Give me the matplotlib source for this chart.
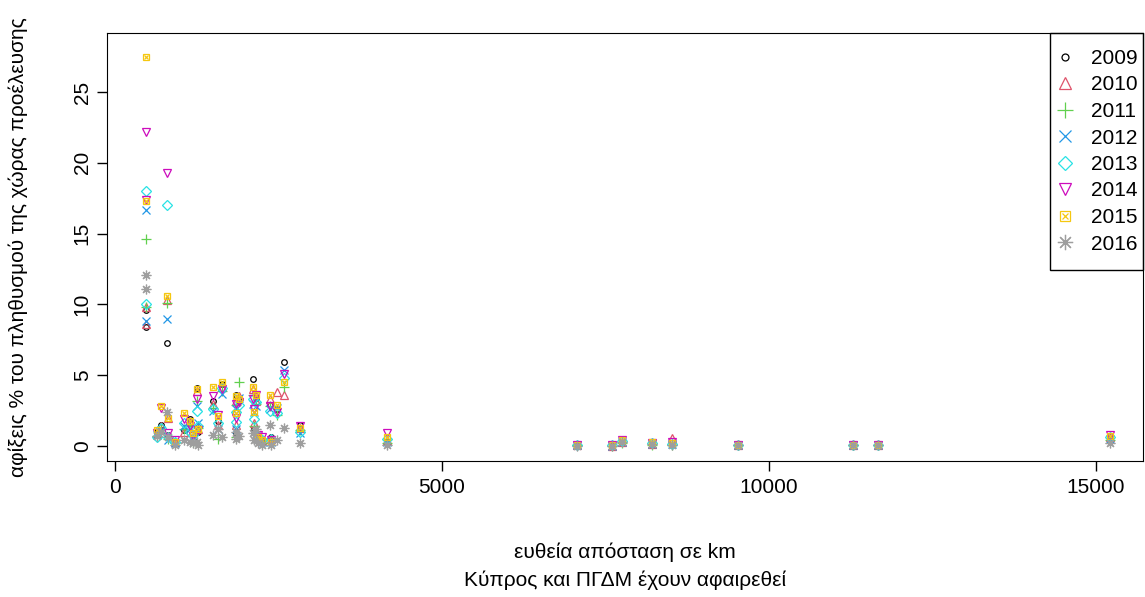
import matplotlib
matplotlib.use("Agg")
import matplotlib.pyplot as plt
from matplotlib.lines import Line2D
from matplotlib.patches import Rectangle
import numpy as np

plt.rcParams['font.family'] = ['Liberation Sans', 'DejaVu Sans']

years = ['2009', '2010', '2011', '2012', '2013', '2014', '2015', '2016']

# straight-line distance (km) per origin country
distance_km = [480, 470, 795, 703, 810, 1055, 1147, 1193, 1254, 1269,
               1498, 1575, 1636, 1850, 1852, 1896, 2110, 2125, 2156, 2187,
               2248, 2370, 2385, 2477, 2584, 2829, 4159, 7064, 7599, 7752,
               8211, 8517, 9526, 11284, 11667, 15214, 917, 642]

# arrivals as % of origin population, one list per year (same country order)
arr_2009 = [9.6, 8.4, 7.3, 1.5, 0.8, 1.1, 1.9, 0.4, 4.1, 1.0,
            3.2, 1.8, 4.4, 3.6, 0.9, 3.2, 4.7, 1.2, 3.4, 0.8,
            0.3, 2.9, 0.6, 2.6, 5.9, 1.5, 0.3, 0.05, 0.02, 0.2,
            0.1, 0.1, 0.05, 0.04, 0.05, 0.5, 0.2, 1.0]
arr_2010 = [9.8, 8.6, 10.3, 1.4, 2.0, 1.0, 1.7, 0.5, 3.9, 1.2,
            3.0, 1.5, 4.2, 3.2, 1.5, 3.5, 4.0, 1.6, 3.2, 0.6,
            0.4, 3.3, 0.5, 3.8, 3.6, 1.3, 0.4, 0.06, 0.03, 0.25,
            0.12, 0.55, 0.06, 0.05, 0.06, 0.6, 0.3, 0.9]
arr_2011 = [14.6, 9.8, 10.1, 1.2, 0.5, 1.2, 1.5, 0.3, 3.2, 1.3,
            2.7, 0.5, 3.9, 2.9, 0.6, 4.5, 3.6, 1.4, 3.0, 0.4,
            0.2, 2.8, 0.4, 2.2, 4.2, 1.1, 0.2, 0.04, 0.02, 0.2,
            0.1, 0.1, 0.05, 0.04, 0.05, 0.4, 0.2, 0.7]
arr_2012 = [16.7, 8.8, 9.0, 1.1, 0.4, 1.4, 1.2, 0.6, 2.8, 1.6,
            2.5, 1.2, 3.7, 2.6, 1.2, 3.4, 3.0, 2.4, 2.8, 0.5,
            0.3, 2.6, 0.3, 2.7, 5.4, 0.9, 0.3, 0.05, 0.03, 0.3,
            0.15, 0.12, 0.07, 0.06, 0.07, 0.5, 0.2, 0.8]
arr_2013 = [18.0, 10.0, 17.0, 1.3, 0.6, 1.6, 1.0, 0.8, 2.5, 1.4,
            2.6, 1.6, 4.1, 2.4, 1.7, 2.9, 3.3, 1.9, 3.1, 0.7,
            0.4, 2.5, 0.5, 2.3, 4.8, 1.0, 0.5, 0.06, 0.04, 0.35,
            0.18, 0.15, 0.08, 0.08, 0.08, 0.6, 0.3, 0.6]
arr_2014 = [22.2, 17.4, 19.3, 2.7, 0.9, 1.9, 1.4, 0.7, 3.3, 1.1,
            3.5, 2.2, 4.0, 3.0, 2.0, 3.1, 3.3, 2.6, 3.6, 0.8,
            0.6, 2.8, 0.4, 2.4, 5.1, 1.4, 0.9, 0.08, 0.05, 0.4,
            0.2, 0.3, 0.1, 0.1, 0.09, 0.8, 0.4, 0.9]
arr_2015 = [27.5, 17.3, 10.6, 2.8, 2.0, 2.3, 1.8, 0.9, 4.0, 1.2,
            4.2, 2.1, 4.5, 3.5, 2.3, 3.3, 4.2, 2.4, 3.6, 0.6,
            0.4, 3.6, 0.3, 2.9, 4.5, 1.3, 0.6, 0.1, 0.06, 0.45,
            0.25, 0.2, 0.1, 0.08, 0.1, 0.7, 0.3, 1.1]
arr_2016 = [12.1, 11.1, 2.4, 1.0, 0.6, 0.4, 0.3, 0.2, 0.3, 0.1,
            0.8, 1.2, 0.6, 1.0, 0.5, 0.7, 0.9, 0.4, 1.2, 0.2,
            0.1, 1.5, 0.1, 0.4, 1.3, 0.2, 0.1, 0.03, 0.01, 0.25,
            0.15, 0.1, 0.05, 0.04, 0.05, 0.2, 0.1, 0.7]

series = [arr_2009, arr_2010, arr_2011, arr_2012, arr_2013, arr_2014, arr_2015, arr_2016]

# R default palette and pch 1:8
colors = ['black', '#DF536B', '#61D04F', '#2297E6', '#28E2E5', '#CD0BBC', '#F5C710', '#9E9E9E']
markers = ['o', '^', '+', 'x', 'D', 'v', 's', (8, 2, 0)]
sizes = [4, 5.5, 6.5, 5.5, 5, 5.5, 4.5, 7]
leg_sizes = [5, 8, 11, 8, 7.5, 8, 7, 11]

fig = plt.figure(figsize=(11.45, 5.97), dpi=100)
ax = fig.add_axes([107 / 1145, 1 - 461 / 597, (1143 - 107) / 1145, (461 - 33) / 597])

x = np.array(distance_km)
handles = []
for i, yr in enumerate(years):
    y = np.array(series[i])
    ax.plot(x, y, linestyle='none', marker=markers[i], ms=sizes[i], mfc='none',
            mec=colors[i], mew=0.9)
    if i == 6:
        ax.plot(x, y, linestyle='none', marker='x', ms=3.5, mec=colors[i], mew=0.9)
        h = (Line2D([], [], ls='none', marker='s', ms=leg_sizes[i], mfc='none', mec=colors[i], mew=0.9),
             Line2D([], [], ls='none', marker='x', ms=leg_sizes[i] * 0.7, mec=colors[i], mew=0.9))
    else:
        h = Line2D([], [], ls='none', marker=markers[i], ms=leg_sizes[i], mfc='none',
                   mec=colors[i], mew=0.9)
    handles.append(h)

ax.set_xlim(-122, 15719)
ax.set_ylim(-1.06, 29.17)

ax.set_xticks([0, 5000, 10000, 15000])
ax.set_yticks([0, 5, 10, 15, 20, 25])
ax.tick_params(axis='both', direction='out', length=7, labelsize=15, width=1)
ax.tick_params(axis='x', pad=5)
ax.tick_params(axis='y', pad=4)
for lab in ax.get_yticklabels():
    lab.set_rotation(90)
    lab.set_va('center')

fig.text(18 / 1145, 1 - 247 / 597, 'αφίξεις % του πληθυσμού της χώρας προέλευσης',
         fontsize=15, rotation=90, ha='center', va='center')
fig.text(625 / 1145, 1 - 552 / 597, 'ευθεία απόσταση σε km', fontsize=15, ha='center', va='center')
fig.text(625 / 1145, 1 - 580 / 597, 'Κύπρος και ΠΓΔΜ έχουν αφαιρεθεί', fontsize=15,
         ha='center', va='center')

# legend entries without frame, box drawn separately (R-style legend box)
leg = ax.legend(handles, years, loc='upper left', fontsize=15, frameon=False,
                bbox_to_anchor=(1056 / 1145, 1 - 49 / 597), bbox_transform=fig.transFigure,
                borderaxespad=0, borderpad=0, handlelength=0.85, handletextpad=0.85,
                labelspacing=0.36)
fig.patches.append(Rectangle((1050 / 1145, 1 - 270 / 597), 93 / 1145, 237 / 597,
                             transform=fig.transFigure, fill=False, edgecolor='black',
                             linewidth=1, zorder=5))

fig.savefig('out.png', dpi=100)
